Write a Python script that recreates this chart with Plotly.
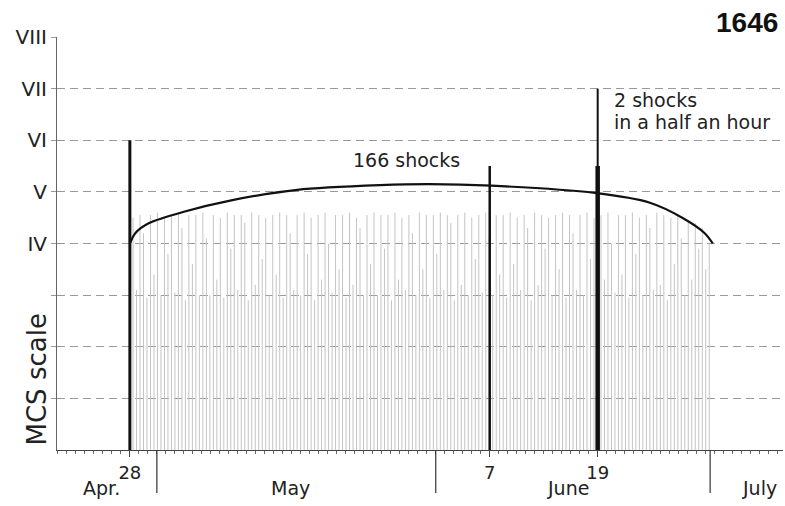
import numpy as np
import plotly.graph_objects as go

# ---- data ----
# day numbers: Apr 28 = 28, May 1 = 31, June 1 = 62, July 1 = 92
grey_heights = [
    4.50, 3.10, 4.55, 4.20, 2.95, 4.55, 3.40, 4.60, 3.00, 4.50,
    3.80, 4.55, 3.05, 4.60, 4.30, 2.90, 4.55, 3.60, 4.55, 3.00,
    4.60, 4.10, 3.00, 4.55, 3.30, 4.50, 2.95, 4.60, 3.90, 4.55,
    3.10, 4.55, 4.40, 2.90, 4.60, 3.20, 4.55, 3.70, 4.50, 3.00,
    4.55, 3.40, 4.60, 2.95, 4.55, 4.20, 3.10, 4.55, 3.00, 4.60,
    3.80, 4.50, 2.90, 4.55, 3.30, 4.60, 4.00, 3.05, 4.55, 3.50,
    4.55, 2.95, 4.60, 3.20, 4.50, 4.30, 3.00, 4.55, 3.60, 4.60,
    3.00, 4.55, 3.90, 4.55, 2.90, 4.60, 3.30, 4.50, 3.10, 4.55,
    4.20, 3.00, 4.60, 3.50, 4.55, 2.95, 4.55, 3.80, 4.60, 3.10,
    4.55, 4.40, 2.90, 4.55, 3.20, 4.60, 3.00, 4.50, 3.70, 4.55,
    3.05, 4.60, 4.10, 3.00, 4.55, 3.40, 4.55, 2.95, 4.60, 3.60,
    4.50, 3.10, 4.55, 4.30, 2.90, 4.60, 3.20, 4.55, 3.90, 4.50,
    3.00, 4.55, 3.50, 4.60, 2.95, 4.55, 4.20, 3.10, 4.55, 3.00,
    4.60, 3.70, 4.50, 2.90, 4.55, 3.30, 4.60, 4.00, 3.05, 4.55,
    3.40, 4.55, 2.95, 4.60, 3.80, 4.50, 3.00, 4.55, 4.30, 3.10,
    4.60, 3.20, 4.55, 2.90, 4.50, 3.60, 4.55, 4.10, 3.00, 4.45,
    3.30, 4.40, 3.90, 4.30, 3.50, 4.00,
]
grey_start, grey_end = 28.35, 92.4

main_days = [28, 68, 80, 80]
main_heights = [6.0, 5.5, 5.5, 7.0]
main_widths = [3, 2.5, 4.5, 2]

env_days = [28.0, 28.6, 30.2, 33.9, 39.4, 46.6, 55.8, 61.3, 68.2, 79.7, 85.8, 89.4, 91.9, 92.8]
env_vals = [4.0, 4.2, 4.4, 4.61, 4.84, 5.04, 5.13, 5.15, 5.12, 4.98, 4.79, 4.5, 4.2, 4.0]

tick_days = [28, 68, 80]
tick_text = ["28", "7", "19"]
month_bounds = [31, 62, 92.5]
month_names = ["Apr.", "May", "June", "July"]
month_label_pos = [24.8, 45.9, 76.7, 98.0]

level_vals = [1, 2, 3, 4, 5, 6, 7, 8]
level_text = ["", "", "", "IV", "V", "VI", "VII", "VIII"]

FONT = "DejaVu Sans, Liberation Sans, sans-serif"
BOLD_FONT = "Liberation Sans, Arial, sans-serif"
TXT = "#222222"

fig = go.Figure()

# grey shocks as thin vertical lines
gx = np.linspace(grey_start, grey_end, len(grey_heights))
xs, ys = [], []
for x, h in zip(gx, grey_heights):
    xs += [x, x, None]
    ys += [0, h, None]
fig.add_trace(go.Scatter(x=xs, y=ys, mode="lines",
                         line=dict(color="#c4c4c4", width=1),
                         hoverinfo="skip", showlegend=False))

# envelope curve
fig.add_trace(go.Scatter(x=env_days, y=env_vals, mode="lines",
                         line=dict(color="#111111", width=2.2, shape="spline", smoothing=0.8),
                         hoverinfo="skip", showlegend=False))

# main shocks
for d, h, w in zip(main_days, main_heights, main_widths):
    fig.add_trace(go.Scatter(x=[d, d], y=[0, h], mode="lines",
                             line=dict(color="#111111", width=w),
                             hoverinfo="skip", showlegend=False))

# month separators below the axis
for b in month_bounds:
    fig.add_shape(type="line", xref="x", yref="paper", x0=b, x1=b, y0=0, y1=-0.104,
                  line=dict(color="#333333", width=1.2))

# month labels
for name, pos in zip(month_names, month_label_pos):
    fig.add_annotation(x=pos, y=-0.093, xref="x", yref="paper", text=name,
                       showarrow=False, font=dict(family=FONT, size=19, color=TXT),
                       xanchor="center", yanchor="middle")

fig.add_annotation(x=58.7, y=5.62, text="166 shocks", showarrow=False,
                   font=dict(family=FONT, size=19, color=TXT),
                   xanchor="center", yanchor="middle")
fig.add_annotation(x=81.6, y=6.78, text="2 shocks", showarrow=False,
                   font=dict(family=FONT, size=19, color=TXT),
                   xanchor="left", yanchor="middle", align="left")
fig.add_annotation(x=81.6, y=6.35, text="in a half an hour", showarrow=False,
                   font=dict(family=FONT, size=19, color=TXT),
                   xanchor="left", yanchor="middle", align="left")
fig.add_annotation(x=0.996, y=1.036, xref="paper", yref="paper", text="<b>1646</b>",
                   showarrow=False, font=dict(family=BOLD_FONT, size=28, color="#111111"),
                   xanchor="right", yanchor="middle")
fig.add_annotation(x=-0.028, y=1.36, xref="paper", yref="y", text="MCS scale",
                   textangle=-90, showarrow=False,
                   font=dict(family=FONT, size=26, color=TXT),
                   xanchor="center", yanchor="middle")

fig.update_xaxes(range=[19.9, 100.6], showgrid=False, zeroline=False,
                 showline=True, linecolor="#444444", linewidth=1.2,
                 tickvals=tick_days, ticktext=tick_text, ticks="outside",
                 ticklen=6, tickcolor="#444444", tickwidth=1.2,
                 tickfont=dict(family=FONT, size=18, color=TXT),
                 minor=dict(dtick=1, tick0=0, ticklen=3, ticks="outside", tickcolor="#666666"))
fig.update_yaxes(range=[0, 8], showgrid=True, gridcolor="#9a9a9a", gridwidth=1,
                 griddash="8px,5px", zeroline=False,
                 showline=True, linecolor="#666666", linewidth=1,
                 tickvals=level_vals, ticktext=level_text, ticks="outside",
                 ticklen=5, tickcolor="#9a9a9a",
                 tickfont=dict(family=FONT, size=20, color=TXT))

fig.update_layout(width=785, height=506, margin=dict(l=57, r=2, t=37, b=56),
                  paper_bgcolor="white", plot_bgcolor="white", showlegend=False)

# remove the default page margin so the figure fills the window exactly
fig.write_html("out.html", config={"displayModeBar": False},
               post_script="document.body.style.margin='0';document.body.style.overflow='hidden';")
